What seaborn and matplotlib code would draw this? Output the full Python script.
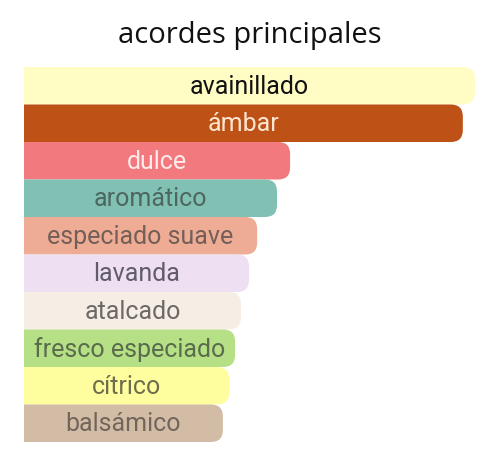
import numpy as np
import pandas as pd
import seaborn as sns
import matplotlib
matplotlib.use("Agg")
import matplotlib.pyplot as plt
from matplotlib.patches import FancyBboxPatch

# ------------------------------ DONNEES ------------------------------
acordes = ["avainillado", "ámbar", "dulce", "aromático", "especiado suave",
           "lavanda", "atalcado", "fresco especiado", "cítrico", "balsámico"]
intensidad = [100, 97.3, 59.0, 56.1, 51.7, 49.9, 48.1, 46.8, 45.5, 44.1]
colores = ["#FFFCC4", "#BE5216", "#F2797D", "#80C1B4", "#EEAC94",
           "#EEE0F2", "#F6EDE4", "#B6E085", "#FFFE9E", "#D3BCA5"]
colores_texto = ["#111111", "#FBE6D2", "#FDEAEA", "#4e6662", "#735f57",
                 "#625c6a", "#6c6966", "#5a6c4c", "#6e6e4c", "#72665c"]

df = pd.DataFrame({"acorde": acordes, "valor": intensidad})

# ------------------------------ FIGURE ------------------------------
sns.set_style("white")
fig = plt.figure(figsize=(5.0, 4.65), dpi=100)
ax = fig.add_axes([24/500, 1-442/465, 454/500, (442-67)/465])

sns.barplot(data=df, x="valor", y="acorde", hue="acorde", palette=colores,
            saturation=1, width=1.0, legend=False, ax=ax, orient="h")

xmax = 100*454/451
ax.set_xlim(0, xmax)
ax.set_ylim(9.5, -0.5)

# rayon des coins en pixels -> unites de donnees
px_x = xmax/454
px_y = 10/375
r = 12*px_x
aspect = (12*px_y)/r

for i, p in enumerate(list(ax.patches)):
    x, y = p.get_x(), p.get_y()
    w, h = p.get_width(), p.get_height()
    c = p.get_facecolor()
    p.remove()
    b = FancyBboxPatch((x-5, y), w+5, h,
                       boxstyle="round,pad=0,rounding_size=%f" % r,
                       mutation_aspect=aspect, facecolor=c, edgecolor="none",
                       clip_on=True)
    ax.add_patch(b)
    b.set_clip_path(ax.patch)

for i, (a, v) in enumerate(zip(acordes, intensidad)):
    ax.text(v/2, i+0.03, a, ha="center", va="center", fontsize=18,
            family="Roboto", color=colores_texto[i])

ax.axis("off")
fig.text(0.5, 1-35/465, "acordes principales", ha="center", va="center",
         fontsize=21, family="Open Sans", color="#111111")

fig.savefig("out.png", dpi=100)
